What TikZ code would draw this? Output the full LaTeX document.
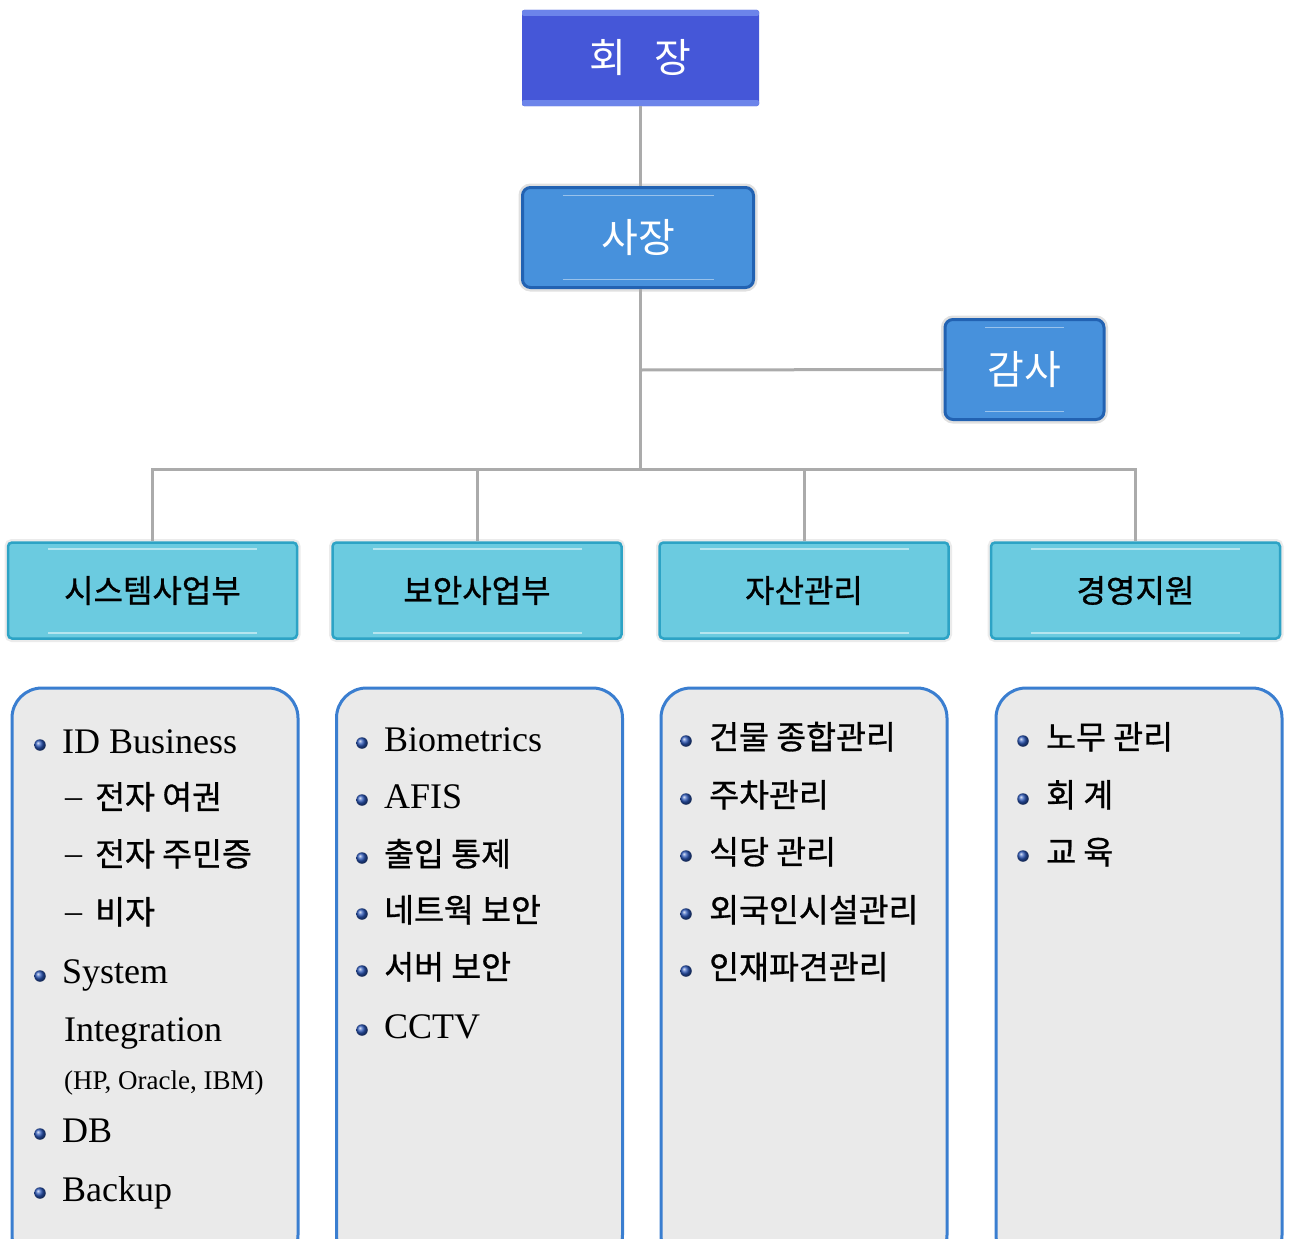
\documentclass[tikz,border=0pt]{standalone}
\usepackage{fontspec}
\setmainfont{Liberation Serif}
\newfontfamily\kr{Noto Sans CJK KR}
\newfontfamily\krm[FakeBold=0.9]{Noto Sans CJK KR}
\usepackage{tikz}
\usetikzlibrary{positioning, calc, shadings}

\definecolor{chairblue}{HTML}{4557D8}
\definecolor{chairedge}{HTML}{6C84EA}
\definecolor{presblue}{HTML}{4791DC}
\definecolor{presedge}{HTML}{2262B2}
\definecolor{deptcyan}{HTML}{6BCBE0}
\definecolor{deptedge}{HTML}{2DA3C5}
\definecolor{listfill}{HTML}{EAEAEA}
\definecolor{listedge}{HTML}{3A7ED0}
\definecolor{linkgray}{HTML}{ABABAB}
\definecolor{dotblue}{HTML}{2A56B8}

\begin{document}
\begin{tikzpicture}[
  x=1pt, y=-1pt,
  chairbox/.style={rectangle, rounded corners=2pt, fill=chairblue,
                   minimum width=237pt, minimum height=96pt,
                   text=white, font=\kr\fontsize{40}{44}\selectfont,
                   path picture={
                     \fill[chairedge] (path picture bounding box.north west)
                       rectangle ($(path picture bounding box.north east)+(0,6)$);
                     \fill[chairedge] (path picture bounding box.south west)
                       rectangle ($(path picture bounding box.south east)+(0,-6)$);}},
  headbox/.style={rectangle, rounded corners=8pt, fill=presblue,
                  draw=presedge, line width=3pt, minimum height=100pt,
                  text=white, font=\kr\fontsize{40}{44}\selectfont,
                  preaction={draw=black!12, line width=8pt},
                  path picture={
                    \draw[white, opacity=0.45, line width=1.5pt]
                      ($(path picture bounding box.north west)+(40,8)$) --
                      ($(path picture bounding box.north east)+(-40,8)$);
                    \draw[white, opacity=0.45, line width=1.5pt]
                      ($(path picture bounding box.south west)+(40,-8)$) --
                      ($(path picture bounding box.south east)+(-40,-8)$);}},
  deptbox/.style={rectangle, rounded corners=4pt, fill=deptcyan,
                  draw=deptedge, line width=2.5pt,
                  minimum width=289pt, minimum height=96pt,
                  preaction={draw=black!8, line width=7pt},
                  font=\krm\fontsize{32}{36}\selectfont,
                  path picture={
                    \draw[white, opacity=0.5, line width=2pt]
                      ($(path picture bounding box.north west)+(40,6)$) --
                      ($(path picture bounding box.north east)+(-40,6)$);
                    \draw[white, opacity=0.5, line width=2pt]
                      ($(path picture bounding box.south west)+(40,-6)$) --
                      ($(path picture bounding box.south east)+(-40,-6)$);}},
  listbox/.style={rectangle, rounded corners=30pt, fill=listfill,
                  draw=listedge, line width=3pt,
                  minimum width=286pt, minimum height=577pt},
  link/.style={draw=linkgray, line width=3pt},
  dot/.style={circle, inner sep=0pt, minimum size=11.5pt,
              shading=ball, ball color=dotblue},
  litem/.style={anchor=base west, inner sep=0pt,
                font=\fontsize{36}{40}\selectfont},
  kitem/.style={anchor=base west, inner sep=0pt,
                font=\krm\fontsize{32.5}{36}\selectfont}
]
\useasboundingbox (0,0) rectangle (1290,1239);
\clip (0,0) rectangle (1290,1239);

% top of the chart
\node[chairbox] (chair) at (640.5,58) {회\hspace{0.72em}장};
\node[headbox, minimum width=231pt] (pres) at (638,237.5) {사장};
\node[headbox, minimum width=159pt] (audit) at (1024.5,369.5) {감사};

% departments
\node[deptbox] (sys)   at (152.5,590.5) {시스템사업부};
\node[deptbox] (sec)   at (477,590.5)   {보안사업부};
\node[deptbox] (asset) at (804,590.5)   {자산관리};
\node[deptbox] (mgmt)  at (1135.5,590.5) {경영지원};

\coordinate (auditj) at (640,370);
\coordinate (bus) at (640,469);

\draw[link] (chair.south) -- (chair.south |- pres.north);
\draw[link] (pres.south -| auditj) -- (bus);
\draw[link] (auditj) -- (audit.west);
\draw[link] (sys.north) |- (bus) -| (mgmt.north);
\draw[link] (sec.north) -- (sec.north |- bus);
\draw[link] (asset.north) -- (asset.north |- bus);

% task lists
\node[listbox] (sysl)   at (155,976.5)  {};
\node[listbox] (secl)   at (479.5,976.5) {};
\node[listbox] (assetl) at (804,976.5)  {};
\node[listbox] (mgmtl)  at (1139,976.5) {};

% system business
\node[dot] (s1d) at (40,745) {};
\node[litem] (s1) at (62,753) {ID Business};
\foreach \n/\y/\t in {s2/809/전자 여권, s3/866/전자 주민증, s4/924/비자}
  \node[kitem] (\n) at (65,\y) {\raisebox{2pt}{\rmfamily\fontsize{34}{36}\selectfont –}\hspace{0.4em}\t};
\node[dot] (s5d) at (40,976) {};
\node[litem] (s5) at (62,983) {System};
\node[litem] (s6) at (64,1041) {Integration};
\node[litem, font=\fontsize{27}{30}\selectfont] (s7) at (64,1089) {(HP, Oracle, IBM)};
\node[dot] (s8d) at (40,1134) {};
\node[litem] (s8) at (62,1142) {DB};
\node[dot] (s9d) at (40,1193) {};
\node[litem] (s9) at (62,1201) {Backup};

% security business
\foreach \n/\y/\t in {b1/751/Biometrics, b2/808/AFIS, b6/1038/CCTV} {
  \node[dot] (\n d) at (362,\y-8) {};
  \node[litem] (\n) at (384,\y) {\t};
}
\foreach \n/\y/\t in {b3/866/출입 통제, b4/922/네트웍 보안, b5/979/서버 보안} {
  \node[dot] (\n d) at (362,\y-8) {};
  \node[kitem] (\n) at (384,\y) {\t};
}

% asset management
\foreach \n/\y/\t in {a1/749/건물 종합관리, a2/807/주차관리, a3/864/식당 관리,
                      a4/922/외국인시설관리, a5/979/인재파견관리} {
  \node[dot] (\n d) at (686,\y-8) {};
  \node[kitem] (\n) at (709,\y) {\t};
}

% management support
\foreach \n/\y/\t in {m1/749/노무 관리, m2/807/회 계, m3/864/교 육} {
  \node[dot] (\n d) at (1023,\y-8) {};
  \node[kitem] (\n) at (1046,\y) {\t};
}
\end{tikzpicture}
\end{document}
